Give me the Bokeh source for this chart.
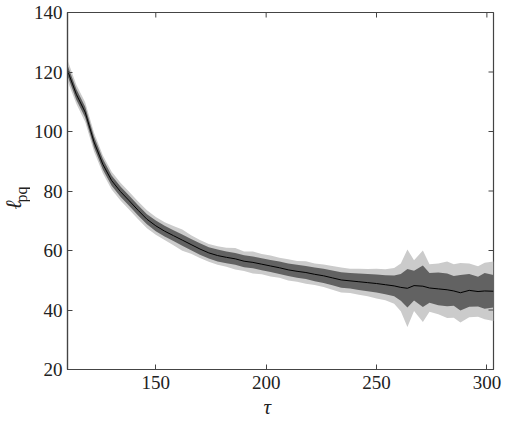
import numpy as np
from bokeh.plotting import figure
from bokeh.models import ColumnDataSource, Range1d, LinearAxis, FixedTicker, Label
from bokeh.layouts import row
from bokeh.embed import file_html
from bokeh.resources import INLINE

# ---- data ----
tau = [110, 114, 118, 122, 126, 130, 134, 138, 142, 146, 150, 154, 158, 162, 166,
       170, 174, 178, 182, 186, 190, 194, 198, 202, 206, 210, 214, 218, 222, 226,
       230, 234, 238, 242, 246, 250, 254, 258, 261, 264, 267, 271, 274, 278, 282,
       285, 288, 292, 296, 299, 303]
mean = [120.5, 112.5, 106.5, 96.5, 89.0, 83.5, 79.8, 76.7, 73.5, 70.5, 68.3, 66.5,
        65.0, 63.5, 62.0, 60.5, 59.2, 58.3, 57.7, 57.2, 56.4, 56.0, 55.4, 54.8,
        54.2, 53.5, 53.0, 52.6, 52.0, 51.5, 50.8, 50.1, 49.8, 49.5, 49.2, 48.9,
        48.5, 48.1, 47.6, 47.3, 48.2, 48.0, 47.4, 47.1, 46.8, 46.4, 45.8, 46.6,
        46.2, 46.4, 46.3]
inner_halfwidth = [1.8, 1.8, 1.8, 1.8, 1.8, 1.7, 1.7, 1.7, 1.7, 1.7, 1.8, 1.8,
                   1.8, 1.9, 1.9, 1.9, 1.9, 2.0, 2.0, 2.0, 2.0, 2.0, 2.0, 2.0,
                   2.1, 2.1, 2.2, 2.2, 2.3, 2.4, 2.5, 2.6, 2.6, 2.8, 2.9, 3.0,
                   3.2, 3.5, 4.5, 6.5, 5.0, 7.0, 5.0, 5.5, 5.5, 5.0, 6.0, 5.5,
                   5.0, 6.0, 5.5]
outer_halfwidth = [3.5, 3.2, 3.3, 3.2, 3.0, 3.0, 3.0, 3.0, 3.0, 3.0, 3.0, 3.0,
                   3.2, 3.6, 3.1, 3.0, 3.0, 3.1, 3.2, 3.6, 3.3, 3.7, 3.4, 3.5,
                   3.4, 3.6, 3.5, 3.8, 3.6, 3.8, 4.0, 4.2, 4.1, 4.4, 4.6, 5.0,
                   5.2, 6.0, 8.0, 13.0, 8.5, 12.0, 8.0, 8.5, 9.5, 9.0, 10.0, 9.0,
                   8.5, 9.5, 10.0]

x_min, x_max = 110, 303
y_min, y_max = 20, 140
xticks = [150, 200, 250, 300]
yticks = [20, 40, 60, 80, 100, 120, 140]
x_label = "τ"
y_label_main = "ℓ"
y_label_sub = "pq"

m = np.array(mean)
iw = np.array(inner_halfwidth)
ow = np.array(outer_halfwidth)
src = ColumnDataSource(dict(x=tau, m=mean, ilo=m - iw, ihi=m + iw, olo=m - ow, ohi=m + ow))

FONT = "Liberation Serif"
AX = "#444444"
TXT = "#222222"
NBSP = "\u00a0"

p = figure(width=476, height=426, output_backend="svg", toolbar_location=None,
           x_range=Range1d(x_min, x_max), y_range=Range1d(y_min, y_max),
           x_axis_type=None, y_axis_type=None,
           min_border_left=35, min_border_right=13, min_border_top=12, min_border_bottom=57)
p.grid.visible = False
p.outline_line_color = AX
p.outline_line_width = 1.2
p.background_fill_color = "white"
p.border_fill_color = "white"

p.varea(x="x", y1="olo", y2="ohi", source=src, fill_color="#cbcbcb")
p.varea(x="x", y1="ilo", y2="ihi", source=src, fill_color="#626262")
p.line(x="x", y="m", source=src, line_color="black", line_width=1)

# inward ticks mirrored on the top and right edges
p.ray(x=xticks, y=[y_max] * len(xticks), length=5, length_units="screen",
      angle=-np.pi / 2, line_color=AX, line_width=1)
p.ray(x=[x_max] * len(yticks), y=yticks, length=5, length_units="screen",
      angle=np.pi, line_color=AX, line_width=1)


def style(ax):
    ax.axis_line_color = AX
    ax.axis_line_width = 1.2
    ax.major_tick_line_color = AX
    ax.major_tick_in = 5
    ax.major_tick_out = 0
    ax.minor_tick_line_color = None
    ax.major_label_text_font = FONT
    ax.major_label_text_font_size = "19px"
    ax.major_label_text_color = TXT


bottom = LinearAxis(ticker=FixedTicker(ticks=xticks))
style(bottom)
bottom.major_label_standoff = 6
bottom.axis_label = x_label + NBSP * 5
bottom.axis_label_text_font = FONT
bottom.axis_label_text_font_style = "italic"
bottom.axis_label_text_font_size = "21px"
bottom.axis_label_standoff = 3
bottom.axis_label_text_color = TXT
p.add_layout(bottom, "below")

left = LinearAxis(ticker=FixedTicker(ticks=yticks))
style(left)
left.major_label_standoff = 5
p.add_layout(left, "left")

# narrow strip on the left that carries the rotated y-axis label (l with subscript pq)
lab = figure(width=30, height=426, output_backend="svg", toolbar_location=None,
             x_range=Range1d(0, 1), y_range=Range1d(0, 1),
             x_axis_type=None, y_axis_type=None, min_border=0)
lab.grid.visible = False
lab.outline_line_color = None
lab.background_fill_color = "white"
lab.border_fill_color = "white"
lab.add_layout(Label(x=13, y=209, x_units="canvas", y_units="canvas", text=y_label_main,
                     angle=np.pi / 2, text_font=FONT, text_font_style="italic",
                     text_font_size="22px", text_color=TXT,
                     text_align="left", text_baseline="alphabetic"))
lab.add_layout(Label(x=21, y=202, x_units="canvas", y_units="canvas", text=y_label_sub,
                     angle=np.pi / 2, text_font=FONT,
                     text_font_size="16px", text_color=TXT,
                     text_align="left", text_baseline="alphabetic"))

layout = row(lab, p, spacing=0)
open("out.html", "w").write(file_html(layout, INLINE))
